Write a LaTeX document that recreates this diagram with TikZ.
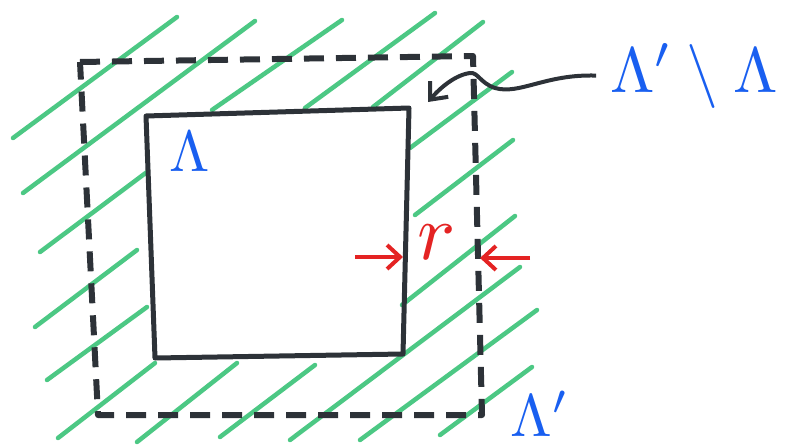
\documentclass[tikz,border=0pt]{standalone}
\usetikzlibrary{positioning,arrows.meta,calc}
\definecolor{hatchgreen}{RGB}{76,200,132}
\definecolor{inkblack}{RGB}{45,50,56}
\definecolor{inkblue}{RGB}{25,95,240}
\definecolor{inkred}{RGB}{228,35,35}

\begin{document}
\begin{tikzpicture}[x=1pt, y=-1pt,
    hatch/.style={line width=4.5pt, hatchgreen, line cap=round},
    inner/.style={line width=5pt, inkblack, line join=round},
    outer/.style={line width=6pt, inkblack, dash pattern=on 20pt off 12pt, line join=round},
    gap/.style={line width=4pt, inkred, -{Straight Barb[length=13pt,width=24pt]}},
    pointer/.style={line width=4pt, inkblack, -{Straight Barb[length=14pt,width=24pt]}},
    setlabel/.style={inkblue, inner sep=0pt}]
    \useasboundingbox (0,0) rectangle (789,447);
    %
    % hatching of the shell
    \foreach \xa/\ya/\xb/\yb in {177/17/13/138, 255/21/23/193, 342/20/212/110,
        435/13/305/108, 483/22/373/107, 512/72/410/148, 513/140/415/215,
        515/216/402/305, 520/267/290/440, 537/310/360/440, 532/367/440/435,
        147/172/40/252, 137/250/35/327, 147/307/47/380, 155/363/58/438,
        237/363/137/442, 315/365/220/437} :
    \draw[hatch] (\xa,\ya) -- (\xb,\yb);
    %
    % inner square
    \node[coordinate] (iTL) at (146,116) {};
    \node[coordinate] (iTR) at (409,108) {};
    \node[coordinate] (iBR) at (403,354) {};
    \node[coordinate] (iBL) at (155,358) {};
    \draw[inner] (iTL) -- (iTR) -- (iBR) -- (iBL) -- cycle;
    %
    % outer square, dashed
    \node[coordinate] (oTL) at (80,62) {};
    \node[coordinate] (oTR) at (473,56) {};
    \node[coordinate] (oBR) at (482,415) {};
    \node[coordinate] (oBL) at (98,415) {};
    \draw[outer] (oTL) -- (oTR) -- (oBR) -- (oBL) -- cycle;
    %
    % labels
    \node[setlabel] (lam) at (190,152) {\scalebox{5.8}{$\Lambda$}};
    \node[setlabel] (lamp) at (540,414) {\scalebox{6}{$\Lambda'$}};
    \node[setlabel] (diff) at (694,76) {\scalebox{6.4}{$\Lambda'\setminus\Lambda$}};
    %
    \draw[pointer, shorten <=14pt] (diff.west) .. controls (545,74) and (520,95) .. (495,88)
        .. controls (480,83) and (478,72) .. (470,73)
        .. controls (455,75) and (440,88) .. (428,102);
    %
    % width r of the shell
    \node[coordinate] (rL) at (355,257) {};
    \node[coordinate] (rLend) at (403,257) {};
    \node[coordinate] (rR) at (530,258) {};
    \node[coordinate] (rRend) at (480,258) {};
    \draw[gap] (rL) -- (rLend);
    \draw[gap] (rR) -- (rRend);
    \node[inkred, inner sep=0pt] (rlab) at (437,242) {\scalebox{8}{$r$}};
\end{tikzpicture}
\end{document}
